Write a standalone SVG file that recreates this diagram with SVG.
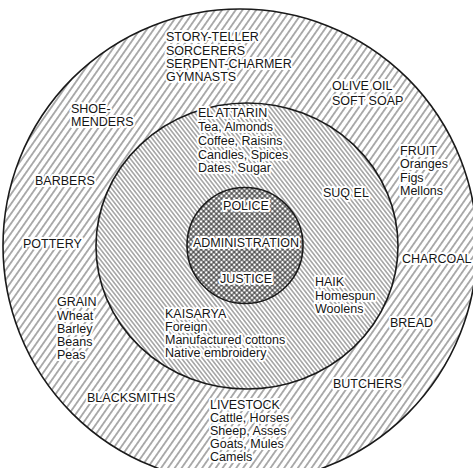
<svg xmlns="http://www.w3.org/2000/svg" width="473" height="468" viewBox="0 0 473 468">
<defs>
<pattern id="hOuter" width="5.6" height="10" patternUnits="userSpaceOnUse" patternTransform="rotate(35)"><line x1="2.8" y1="-1" x2="2.8" y2="11" stroke="#3a3a3a" stroke-width="0.85"/></pattern>
<pattern id="hMiddle" width="3.3" height="10" patternUnits="userSpaceOnUse" patternTransform="rotate(-38)"><line x1="1.65" y1="-1" x2="1.65" y2="11" stroke="#3a3a3a" stroke-width="0.8"/></pattern>
<pattern id="hInner" width="3.6" height="3.6" patternUnits="userSpaceOnUse" patternTransform="rotate(45)"><line x1="1.8" y1="-1" x2="1.8" y2="4.6" stroke="#2a2a2a" stroke-width="1"/><line x1="-1" y1="1.8" x2="4.6" y2="1.8" stroke="#2a2a2a" stroke-width="1"/></pattern>
<style>
.ring{stroke:#1a1a1a;stroke-width:1.6}
text{font-family:"Liberation Sans",Arial,Helvetica,sans-serif;font-size:12.5px;fill:#151515;stroke:#fff;stroke-width:4;stroke-linejoin:round;paint-order:stroke}
.c{text-anchor:middle}
</style>
</defs>
<rect width="473" height="468" fill="#fff"/>
<g id="outer-ring">
<ellipse cx="240" cy="246" rx="237" ry="237" fill="url(#hOuter)" class="ring"/>
</g>
<g id="middle-ring">
<ellipse cx="247" cy="246" rx="151" ry="143" fill="#fff"/>
<ellipse cx="247" cy="246" rx="151" ry="143" fill="url(#hMiddle)" class="ring"/>
</g>
<g id="inner-circle">
<circle cx="245" cy="245.5" r="58" fill="#fff"/>
<circle cx="245" cy="245.5" r="58" fill="url(#hInner)" class="ring"/>
</g>
<g id="center-labels">
<text class="c" x="246" y="210">POLICE</text>
<text class="c" x="246" y="247">ADMINISTRATION</text>
<text class="c" x="246" y="283">JUSTICE</text>
</g>
<g id="story-teller">
<text x="166" y="41">STORY-TELLER</text>
<text x="166" y="54.5">SORCERERS</text>
<text x="166" y="68">SERPENT-CHARMER</text>
<text x="166" y="81">GYMNASTS</text>
</g>
<g id="el-attarin">
<text x="198" y="116.5">EL ATTARIN</text>
<text x="198" y="130.5">Tea, Almonds</text>
<text x="198" y="144.5">Coffee, Raisins</text>
<text x="198" y="158.5">Candles, Spices</text>
<text x="198" y="172">Dates, Sugar</text>
</g>
<g id="shoemenders">
<text x="71" y="113">SHOE-</text>
<text x="71" y="125.5">MENDERS</text>
</g>
<g id="barbers"><text x="35" y="185">BARBERS</text></g>
<g id="pottery"><text x="23" y="248">POTTERY</text></g>
<g id="grain">
<text x="57" y="306">GRAIN</text>
<text x="57" y="319.5">Wheat</text>
<text x="57" y="332.5">Barley</text>
<text x="57" y="345.5">Beans</text>
<text x="57" y="359">Peas</text>
</g>
<g id="blacksmiths"><text x="87" y="402">BLACKSMITHS</text></g>
<g id="olive-oil">
<text x="332" y="90">OLIVE OIL</text>
<text x="332" y="105">SOFT SOAP</text>
</g>
<g id="fruit">
<text x="400" y="154.5">FRUIT</text>
<text x="400" y="168">Oranges</text>
<text x="400" y="181.5">Figs</text>
<text x="400" y="195">Mellons</text>
</g>
<g id="suq-el"><text x="323" y="196.5">SUQ EL</text></g>
<g id="charcoal"><text x="402" y="263">CHARCOAL</text></g>
<g id="haik">
<text x="315" y="286">HAIK</text>
<text x="315" y="299.5">Homespun</text>
<text x="315" y="313">Woolens</text>
</g>
<g id="bread"><text x="390" y="327">BREAD</text></g>
<g id="butchers"><text x="333" y="388">BUTCHERS</text></g>
<g id="kaisarya">
<text x="165" y="317.5">KAISARYA</text>
<text x="165" y="330.5">Foreign</text>
<text x="165" y="343.5">Manufactured cottons</text>
<text x="165" y="356.5">Native embroidery</text>
</g>
<g id="livestock">
<text x="210" y="408.5">LIVESTOCK</text>
<text x="210" y="422">Cattle, Horses</text>
<text x="210" y="435">Sheep, Asses</text>
<text x="210" y="448">Goats, Mules</text>
<text x="210" y="461">Camels</text>
</g>
</svg>
